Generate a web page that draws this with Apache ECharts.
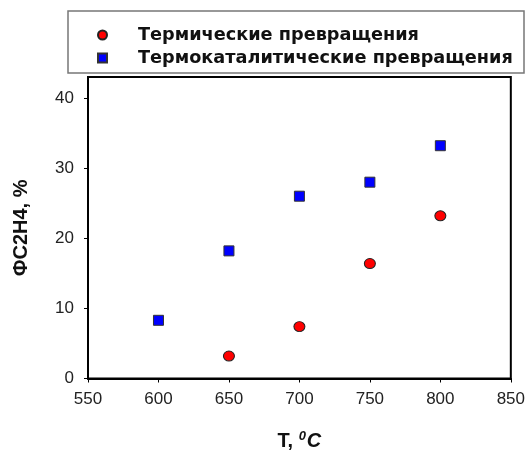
<!DOCTYPE html>
<html>
<head>
<meta charset="utf-8">
<script src="https://cdn.jsdelivr.net/npm/echarts@6/dist/echarts.min.js"></script>
<style>
  html, body { margin: 0; padding: 0; background: #fff; }
  #chart { width: 528px; height: 456px; }
</style>
</head>
<body>
<div id="chart"></div>
<script>
// data
const seriesNames = ['Термические превращения', 'Термокаталитические превращения']
const thermalT = [650, 700, 750, 800]
const thermalVal = [3.2, 7.4, 16.4, 23.2]
const catalyticT = [600, 650, 700, 750, 800]
const catalyticVal = [8.3, 18.2, 26.0, 28.0, 33.2]
const xTicks = [550, 600, 650, 700, 750, 800, 850]
const yTicks = [0, 10, 20, 30, 40]

const chart = echarts.init(document.getElementById('chart'))

const tickFont = { fontFamily: 'Liberation Sans', fontSize: 17, color: '#222' }

const option = {
    animation: false,
    backgroundColor: '#fff',
    graphic: [
        {
            type: 'rect',
            shape: { x: 68, y: 11, width: 456, height: 62 },
            style: { fill: '#fff', stroke: '#777', lineWidth: 1.5 },
            z: 0
        }
    ],
    legend: {
        orient: 'vertical',
        left: 92,
        top: 21,
        itemWidth: 9,
        itemHeight: 9,
        itemGap: 5,
        data: [
            { name: seriesNames[0], icon: 'circle' },
            { name: seriesNames[1], icon: 'rect' }
        ],
        textStyle: {
            fontFamily: 'DejaVu Sans',
            fontWeight: 'bold',
            fontSize: 17.7,
            lineHeight: 18,
            color: '#111',
            padding: [0, 0, 0, 26]
        },
        z: 5
    },
    grid: {
        left: 88,
        right: 13,
        top: 77,
        bottom: 73,
        show: true,
        borderColor: '#000',
        borderWidth: 2,
        backgroundColor: 'transparent'
    },
    xAxis: {
        type: 'value',
        min: 550,
        max: 850,
        interval: 50,
        name: '{t|T, }{s|0}{c|C}',
        nameLocation: 'middle',
        nameGap: 51,
        nameTextStyle: {
            rich: {
                t: { fontFamily: 'Liberation Sans', fontWeight: 'bold', fontSize: 20, color: '#111' },
                s: { fontFamily: 'Liberation Sans', fontWeight: 'bold', fontStyle: 'italic', fontSize: 13, color: '#111', verticalAlign: 'top', padding: [0, 1, 10, 0] },
                c: { fontFamily: 'Liberation Sans', fontWeight: 'bold', fontStyle: 'italic', fontSize: 20, color: '#111' }
            }
        },
        axisLine: { show: true, onZero: false, lineStyle: { color: '#000', width: 2 } },
        axisTick: { show: true, inside: false, length: 4, lineStyle: { color: '#000' }, customValues: xTicks },
        axisLabel: { ...tickFont, margin: 12, customValues: xTicks },
        splitLine: { show: false }
    },
    yAxis: {
        type: 'value',
        min: 0,
        max: 43,
        interval: 10,
        name: 'ΦC2H4, %',
        nameLocation: 'middle',
        nameGap: 57,
        nameTextStyle: {
            fontFamily: 'Liberation Sans',
            fontWeight: 'bold',
            fontSize: 20,
            color: '#111'
        },
        axisLine: { show: true, onZero: false, lineStyle: { color: '#000', width: 2 } },
        axisTick: { show: true, inside: false, length: 4, lineStyle: { color: '#000' }, customValues: yTicks },
        axisLabel: { ...tickFont, margin: 14, customValues: yTicks },
        splitLine: { show: false }
    },
    series: [
        {
            name: seriesNames[0],
            type: 'scatter',
            symbol: 'circle',
            symbolSize: [11, 10],
            itemStyle: { color: '#ff0000', borderColor: '#222', borderWidth: 1, opacity: 1 },
            data: thermalT.map((t, i) => [t, thermalVal[i]]),
            z: 3
        },
        {
            name: seriesNames[1],
            type: 'scatter',
            symbol: 'rect',
            symbolSize: 10,
            itemStyle: { color: '#0000ff', borderColor: '#333', borderWidth: 1, opacity: 1 },
            data: catalyticT.map((t, i) => [t, catalyticVal[i]]),
            z: 3
        }
    ]
}

chart.setOption(option)
</script>
</body>
</html>
